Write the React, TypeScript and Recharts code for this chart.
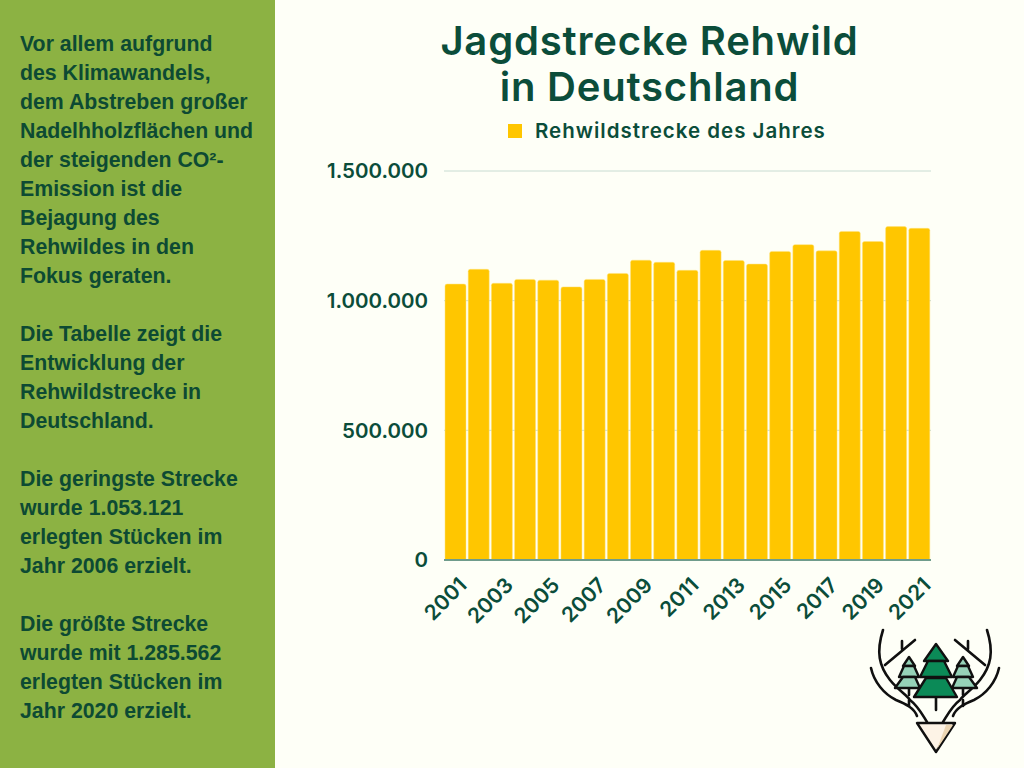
import { BarChart, Bar, XAxis, YAxis, CartesianGrid, Legend } from 'recharts'

const years = [
  '2001', '2002', '2003', '2004', '2005', '2006', '2007', '2008', '2009', '2010', '2011',
  '2012', '2013', '2014', '2015', '2016', '2017', '2018', '2019', '2020', '2021',
]
const strecke = [
  1064000, 1121000, 1067000, 1082000, 1079000, 1053121, 1082000, 1105000, 1156000, 1148000, 1117000,
  1194000, 1155000, 1141000, 1190000, 1216000, 1192000, 1267000, 1228000, 1285562, 1279000,
]
const yTicks = [0, 500000, 1000000, 1500000]
const titleLines = ['Jagdstrecke Rehwild', 'in Deutschland']
const seriesName = 'Rehwildstrecke des Jahres'
const sideLines = [
  'Vor allem aufgrund',
  'des Klimawandels,',
  'dem Abstreben großer',
  'Nadelhholzflächen und',
  'der steigenden CO²-',
  'Emission ist die',
  'Bejagung des',
  'Rehwildes in den',
  'Fokus geraten.',
  '',
  'Die Tabelle zeigt die',
  'Entwicklung der',
  'Rehwildstrecke in',
  'Deutschland.',
  '',
  'Die geringste Strecke',
  'wurde 1.053.121',
  'erlegten Stücken im',
  'Jahr 2006 erzielt.',
  '',
  'Die größte Strecke',
  'wurde mit 1.285.562',
  'erlegten Stücken im',
  'Jahr 2020 erzielt.',
]

const data = years.map((year, i) => ({ year, strecke: strecke[i] }))

const GREEN = '#0b4d3a'
const FONT = 'Inter, "Noto Sans", sans-serif'

function formatTick(v: number) {
  return String(v).replace(/\B(?=(\d{3})+$)/g, '.')
}

function Logo() {
  return (
    <svg width={150} height={140} viewBox="0 0 150 140" style={{ position: 'absolute', left: 860, top: 620 }}>
      <g fill="none" stroke="#101010" strokeWidth={2.6} strokeLinecap="round">
        <path d="M23 10 C16 32 19 46 30 60 C38 70 48 76 50 80 C58 86 62 94 67 102" />
        <path d="M55 20 L25 45 M42 21 L42 29" />
        <path d="M11 48 C14 62 24 74 36 80 C46 84 54 88 57 96" />
        <path d="M127 10 C134 32 131 46 120 60 C112 70 102 76 100 80 C92 86 88 94 83 102" />
        <path d="M95 20 L125 45 M108 21 L108 29" />
        <path d="M139 48 C136 62 126 74 114 80 C104 84 96 88 93 96" />
        <path d="M49 69 L49 75 M49 80 L49 86 M103 69 L103 75 M103 80 L103 86 M76 78 L76 90" />
      </g>
      <g stroke="#101010" strokeWidth={2.4} strokeLinejoin="round">
        <path d="M49 37 L43 46 L55 46 Z" fill="#96d2b8" />
        <path d="M44 46 L54 46 L59 57 L39 57 Z" fill="#96d2b8" />
        <path d="M43 57 L55 57 L60 68 L35 68 Z" fill="#96d2b8" />
        <path d="M103 37 L97 46 L109 46 Z" fill="#96d2b8" />
        <path d="M98 46 L108 46 L113 57 L93 57 Z" fill="#96d2b8" />
        <path d="M97 57 L109 57 L117 68 L92 68 Z" fill="#96d2b8" />
        <path d="M76 24 L64 41 L88 41 Z" fill="#0b8a57" />
        <path d="M68 41 L84 41 L92 57 L60 57 Z" fill="#0b8a57" />
        <path d="M66 58 L86 58 L97 77 L54 77 Z" fill="#0b8a57" />
        <path d="M57 103 L95 103 L76 132 Z" fill="#fdf3e6" />
      </g>
      <path d="M86 105 L93 105 L77 129 Z" fill="#ecd5b2" />
    </svg>
  )
}

export default function App() {
  return (
    <div style={{ position: 'fixed', left: 0, top: 0, width: 1024, height: 768, background: '#fefff7', overflow: 'hidden' }}>
      <div style={{ position: 'absolute', left: 0, top: 0, width: 275, height: 768, background: '#8cb243' }} />
      <div
        style={{
          position: 'absolute',
          left: 20,
          top: 30,
          fontFamily: '"Liberation Sans", Arial, sans-serif',
          fontWeight: 700,
          fontSize: 21.3,
          lineHeight: '29px',
          color: '#0d4a33',
          whiteSpace: 'nowrap',
        }}
      >
        {sideLines.map((line, i) => (
          <div key={i} style={{ height: 29 }}>{line}</div>
        ))}
      </div>
      <div
        style={{
          position: 'absolute',
          left: 275,
          width: 749,
          top: 18,
          textAlign: 'center',
          fontFamily: FONT,
          fontWeight: 600,
          fontSize: 40,
          letterSpacing: 0.8,
          lineHeight: '45.5px',
          color: GREEN,
        }}
      >
        {titleLines.map((line) => (
          <div key={line}>{line}</div>
        ))}
      </div>
      <div style={{ position: 'absolute', left: 0, top: 0 }}>
        <BarChart
          width={1024}
          height={768}
          data={data}
          margin={{ top: 147, right: 93, bottom: 0, left: 0 }}
          barCategoryGap={1}
        >
          <CartesianGrid horizontal vertical={false} stroke="#c8dcd2" strokeWidth={1} />
          <Legend
            verticalAlign="top"
            align="left"
            iconType="square"
            iconSize={14}
            wrapperStyle={{ position: 'absolute', left: 508, top: 115, width: 340, height: 24 }}
            formatter={(value) => (
              <span style={{ position: 'relative', top: 3, color: GREEN, fontFamily: FONT, fontWeight: 600, fontSize: 20.5, letterSpacing: 1, marginLeft: 9 }}>{value}</span>
            )}
          />
          <XAxis
            dataKey="year"
            height={208}
            interval={1}
            axisLine={{ stroke: '#6f9c8c', strokeWidth: 2 }}
            tickLine={false}
            tickMargin={10}
            angle={-45}
            textAnchor="end"
            dx={2}
            tick={{ fill: GREEN, fontFamily: FONT, fontWeight: 600, fontSize: 21 }}
          />
          <YAxis
            width={444}
            domain={[0, 1500000]}
            ticks={yTicks}
            tickFormatter={formatTick}
            axisLine={false}
            tickLine={false}
            tickMargin={10}
            tick={{ fill: GREEN, fontFamily: FONT, fontWeight: 600, fontSize: 20.5 }}
          />
          <Bar
            dataKey="strecke"
            name={seriesName}
            fill="#ffc600"
            stroke="#ffe27a"
            strokeWidth={0.5}
            radius={[2, 2, 0, 0]}
            isAnimationActive={false}
          />
        </BarChart>
      </div>
      <Logo />
    </div>
  )
}
